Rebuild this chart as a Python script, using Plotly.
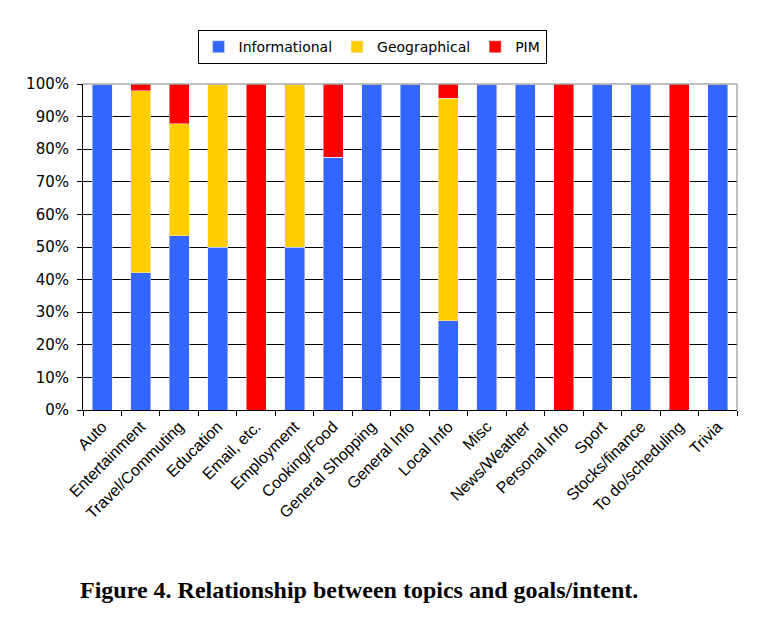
import plotly.graph_objects as go

categories = ["Auto", "Entertainment", "Travel/Commuting", "Education", "Email, etc.",
              "Employment", "Cooking/Food", "General Shopping", "General Info", "Local Info",
              "Misc", "News/Weather", "Personal Info", "Sport", "Stocks/finance",
              "To do/scheduling", "Trivia"]
informational = [100, 42.1, 53.5, 50, 0, 50, 77.5, 100, 100, 27.4, 100, 100, 0, 100, 100, 0, 100]
geographical = [0, 55.8, 34.3, 50, 0, 50, 0, 0, 0, 68.3, 0, 0, 0, 0, 0, 0, 0]
pim = [0, 2.1, 12.2, 0, 100, 0, 22.5, 0, 0, 4.3, 0, 0, 100, 0, 0, 100, 0]
y_ticks = [0, 10, 20, 30, 40, 50, 60, 70, 80, 90, 100]
y_tick_labels = [f"{v}%" for v in y_ticks]

fig = go.Figure()
fig.add_trace(go.Bar(x=categories, y=informational, name="Informational", marker_color="#3366FF"))
fig.add_trace(go.Bar(x=categories, y=geographical, name="Geographical", marker_color="#FFCC00"))
fig.add_trace(go.Bar(x=categories, y=pim, name="PIM", marker_color="#FF0000"))

fig.update_layout(
    barmode="stack",
    bargap=0.48,
    width=758, height=610,
    margin=dict(l=75, r=29, t=76, b=208),
    paper_bgcolor="white", plot_bgcolor="white",
    font=dict(family="DejaVu Sans", color="black"),
    showlegend=True,
    legend=dict(orientation="h", x=0.442, xanchor="center", y=1.113, yanchor="middle",
                bordercolor="black", borderwidth=1, font=dict(size=14, family="DejaVu Sans"),
                itemwidth=30, traceorder="normal", tracegroupgap=0),
    xaxis=dict(type="category", tickson="boundaries", ticks="outside", ticklen=5,
               tickcolor="black", showline=True, linecolor="black", linewidth=1,
               tickangle=-45, tickfont=dict(family="Liberation Sans", size=16),
               showgrid=False, range=[-0.5, 16.5]),
    yaxis=dict(range=[0, 100], tickvals=y_ticks, ticktext=y_tick_labels,
               ticks="outside", ticklen=5, tickcolor="black", showline=True,
               linecolor="black", linewidth=1, showgrid=True, gridcolor="black",
               gridwidth=1, tickfont=dict(family="DejaVu Sans", size=15), zeroline=False,
               ticklabelstandoff=5),
    shapes=[
        dict(type="line", xref="paper", yref="paper", x0=0, x1=1, y0=1, y1=1,
             line=dict(color="#808080", width=1)),
        dict(type="line", xref="paper", yref="paper", x0=1, x1=1, y0=0, y1=1,
             line=dict(color="#808080", width=1)),
    ],
    annotations=[
        dict(text="<b>Figure 4. Relationship between topics and goals/intent.</b>",
             xref="paper", yref="paper", x=-0.008, y=-0.552, xanchor="left", yanchor="middle",
             showarrow=False, font=dict(family="Liberation Serif", size=24, color="black")),
    ],
)

fig.write_html("out.html")
